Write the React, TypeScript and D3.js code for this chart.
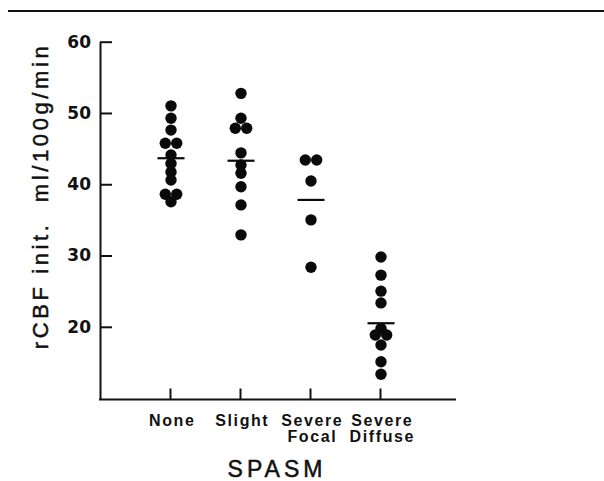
import React, { useRef, useEffect } from 'react';
import * as d3 from 'd3';

// categories on the x axis (with their two-line labels)
const categories = ['None', 'Slight', 'Severe Focal', 'Severe Diffuse'];
const categoryLines = [['None'], ['Slight'], ['Severe', 'Focal'], ['Severe', 'Diffuse']];

// rCBF init. values, ml/100g/min
const noneValues = [51.0, 49.25, 47.6, 45.75, 45.75, 44.1, 42.9, 41.7, 40.6, 38.6, 38.6, 37.55];
const slightValues = [52.75, 49.25, 47.85, 47.85, 44.4, 42.7, 41.55, 39.65, 37.1, 32.9];
const focalValues = [43.4, 43.4, 40.45, 35.0, 28.35];
const diffuseValues = [29.8, 27.25, 25.0, 23.35, 19.75, 18.85, 18.85, 17.45, 15.1, 13.35];

// group means (short horizontal bars)
const meanValues = [43.65, 43.3, 37.8, 20.5];

const yTicks = [20, 30, 40, 50, 60];

const App = () => {
  const ref = useRef<SVGSVGElement>(null);

  useEffect(() => {
    const groups = [noneValues, slightValues, focalValues, diffuseValues];
    const width = 604;
    const height = 481;

    d3.select(ref.current).selectAll('*').remove();

    const svg = d3.select(ref.current)
      .attr('width', width)
      .attr('height', height);

    const tickFont = 'DejaVu Sans, Liberation Sans, sans-serif';
    const textFont = 'Liberation Sans, Arial, sans-serif';

    // rule across the top of the page
    svg.append('line')
      .attr('x1', 8).attr('x2', width)
      .attr('y1', 11).attr('y2', 11)
      .attr('stroke', '#111').attr('stroke-width', 2);

    const y = d3.scaleLinear().domain([9.8, 60]).range([399.5, 41.7]);
    const x = d3.scalePoint<string>().domain(categories).range([170, 380]);
    const axisLeftX = 100;
    const axisRightX = 456;
    const axisY = y(9.8);

    // y axis, ticks pointing inward
    const yAxis = d3.axisLeft(y)
      .tickValues(yTicks)
      .tickSizeInner(-12)
      .tickSizeOuter(0)
      .tickPadding(9)
      .tickFormat(d3.format('d'));

    const yAxisGroup = svg.append('g')
      .attr('transform', `translate(${axisLeftX},0)`)
      .call(yAxis);

    yAxisGroup.select('.domain').attr('stroke', '#111').attr('stroke-width', 2);
    yAxisGroup.selectAll('.tick line').attr('stroke', '#111').attr('stroke-width', 2);
    yAxisGroup.selectAll('.tick text')
      .attr('font-family', tickFont)
      .attr('font-weight', 'bold')
      .attr('font-size', 17)
      .attr('fill', '#111');

    // x axis
    svg.append('line')
      .attr('x1', axisLeftX - 1).attr('x2', axisRightX)
      .attr('y1', axisY).attr('y2', axisY)
      .attr('stroke', '#111').attr('stroke-width', 2);

    const xAxis = d3.axisBottom(x).tickSizeInner(-11).tickSizeOuter(0).tickFormat(() => '');
    const xAxisGroup = svg.append('g')
      .attr('transform', `translate(0,${axisY})`)
      .call(xAxis);
    xAxisGroup.select('.domain').remove();
    xAxisGroup.selectAll('.tick line').attr('stroke', '#111').attr('stroke-width', 2);

    // category labels
    const catSpacing = 1.6;
    svg.selectAll('.cat-label')
      .data(categories)
      .enter()
      .append('text')
      .attr('class', 'cat-label')
      .attr('text-anchor', 'middle')
      .attr('font-family', textFont)
      .attr('font-weight', 'bold')
      .attr('font-size', 16)
      .attr('letter-spacing', catSpacing)
      .attr('fill', '#111')
      .each(function (d, i) {
        const t = d3.select(this);
        categoryLines[i].forEach((line, j) => {
          t.append('tspan')
            .attr('x', (x(d) as number) + 1.5 + catSpacing / 2)
            .attr('y', 425.5 + j * 16.5)
            .text(line);
        });
      });

    // axis titles
    svg.append('text')
      .attr('x', 275 + 2)
      .attr('y', 476.5)
      .attr('text-anchor', 'middle')
      .attr('font-family', textFont)
      .attr('font-size', 23)
      .attr('letter-spacing', 4)
      .attr('fill', '#111')
      .attr('stroke', '#111')
      .attr('stroke-width', 0.5)
      .text('SPASM');

    svg.append('text')
      .attr('transform', 'translate(48,196) rotate(-90)')
      .attr('text-anchor', 'middle')
      .attr('font-family', textFont)
      .attr('font-size', 22)
      .attr('letter-spacing', 3.6)
      .attr('fill', '#111')
      .attr('stroke', '#111')
      .attr('stroke-width', 0.5)
      .style('white-space', 'pre')
      .text('rCBF init.  ml/100g/min');

    // points: identical values in a group sit side by side
    const r = 5.7;
    const points: { cx: number; cy: number }[] = [];
    groups.forEach((vals, gi) => {
      const counts = d3.rollup(vals, v => v.length, v => v);
      const seen = new Map<number, number>();
      vals.forEach(v => {
        const n = counts.get(v) || 1;
        const k = seen.get(v) || 0;
        seen.set(v, k + 1);
        const offset = (k - (n - 1) / 2) * 2 * r;
        points.push({ cx: (x(categories[gi]) as number) + 1 + offset, cy: y(v) });
      });
    });

    svg.selectAll('.dot')
      .data(points)
      .enter()
      .append('circle')
      .attr('class', 'dot')
      .attr('cx', d => d.cx)
      .attr('cy', d => d.cy)
      .attr('r', r)
      .attr('fill', '#0a0a0a');

    // mean bars
    svg.selectAll('.mean')
      .data(meanValues)
      .enter()
      .append('line')
      .attr('class', 'mean')
      .attr('x1', (d, i) => (x(categories[i]) as number) + 1 - 13.5)
      .attr('x2', (d, i) => (x(categories[i]) as number) + 1 + 13.5)
      .attr('y1', d => y(d))
      .attr('y2', d => y(d))
      .attr('stroke', '#0a0a0a')
      .attr('stroke-width', 2.2);
  }, []);

  return (
    <svg ref={ref} style={{ position: 'absolute', left: 0, top: 0, background: '#fff' }}></svg>
  );
};

export default App;
